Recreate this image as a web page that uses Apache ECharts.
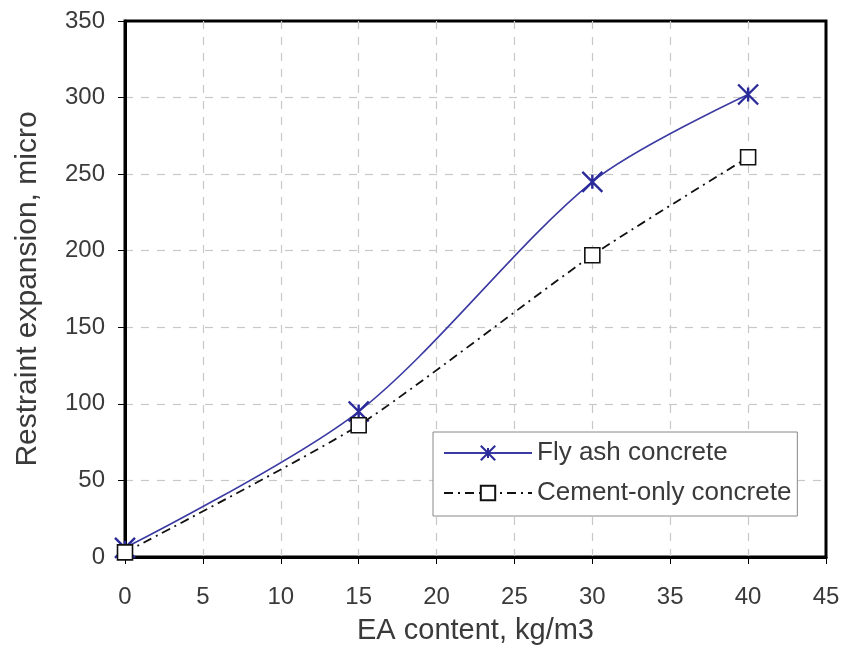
<!DOCTYPE html>
<html>
<head>
<meta charset="utf-8">
<script src="https://cdn.jsdelivr.net/npm/echarts@6/dist/echarts.min.js"></script>
<style>
html,body{margin:0;padding:0;background:#fff;}
#chart{width:845px;height:650px;}
</style>
</head>
<body>
<div id="chart"></div>
<script>
// EA content (kg/m3)
const eaContent = [0, 15, 30, 40];
// Restraint expansion (micro)
const flyAsh = [6, 95, 245, 302];
const cementOnly = [3, 86, 197, 261];

const seriesNames = ['Fly ash concrete', 'Cement-only concrete'];

// asterisk marker: X with a short vertical stroke
const starPath = 'path://M0,0L20,20M20,0L0,20M10,3L10,17';

const chart = echarts.init(document.getElementById('chart'));
const font = 'Liberation Sans, Arial, sans-serif';
const textColor = '#3a3a3a';

chart.setOption({
  backgroundColor: '#fff',
  animation: false,
  grid: {
    left: 125, right: 19, top: 21, bottom: 93,
    show: true, borderColor: '#000', borderWidth: 3, backgroundColor: '#fff'
  },
  legend: {
    orient: 'vertical',
    left: 433, top: 432,
    padding: [8, 6, 10, 10],
    backgroundColor: '#fff',
    borderColor: '#888', borderWidth: 1,
    itemWidth: 88, itemHeight: 18, itemGap: 14,
    textStyle: {fontFamily: font, fontSize: 26, color: textColor},
    data: seriesNames
  },
  xAxis: {
    type: 'value', min: 0, max: 45, interval: 5,
    name: 'EA content, kg/m3', nameLocation: 'middle', nameGap: 59,
    nameTextStyle: {fontFamily: font, fontSize: 29, color: textColor},
    axisLine: {show: true, lineStyle: {color: '#000', width: 3}},
    axisTick: {show: true, inside: false, length: 7, lineStyle: {color: '#000', width: 1}},
    axisLabel: {fontFamily: font, fontSize: 24, color: textColor, margin: 28},
    splitLine: {show: true, showMinLine: false, showMaxLine: false,
      lineStyle: {color: '#c8c8c8', type: [8, 8], width: 1.2}}
  },
  yAxis: {
    type: 'value', min: 0, max: 350, interval: 50,
    name: 'Restraint expansion, micro', nameLocation: 'middle', nameGap: 82,
    nameTextStyle: {fontFamily: font, fontSize: 30, color: textColor},
    axisLine: {show: true, lineStyle: {color: '#000', width: 3}},
    axisTick: {show: true, inside: false, length: 7, lineStyle: {color: '#000', width: 1}},
    axisLabel: {fontFamily: font, fontSize: 24, color: textColor, margin: 20},
    splitLine: {show: true, showMinLine: false, showMaxLine: false,
      lineStyle: {color: '#c8c8c8', type: [8, 8], width: 1.2}}
  },
  series: [
    {
      name: seriesNames[0], type: 'line', smooth: 0.3,
      data: eaContent.map((x, i) => [x, flyAsh[i]]),
      symbol: starPath, symbolSize: 20,
      lineStyle: {color: '#3b3ba3', width: 1.6},
      itemStyle: {color: 'none', borderColor: '#2a2a9a', borderWidth: 2.4},
      z: 3
    },
    {
      name: seriesNames[1], type: 'line', smooth: 0.2,
      data: eaContent.map((x, i) => [x, cementOnly[i]]),
      symbol: 'rect', symbolSize: 15,
      lineStyle: {color: '#111', width: 1.8, type: [9, 5, 2, 5]},
      itemStyle: {color: '#fff', borderColor: '#111', borderWidth: 1.6},
      z: 4
    }
  ]
});
</script>
</body>
</html>
